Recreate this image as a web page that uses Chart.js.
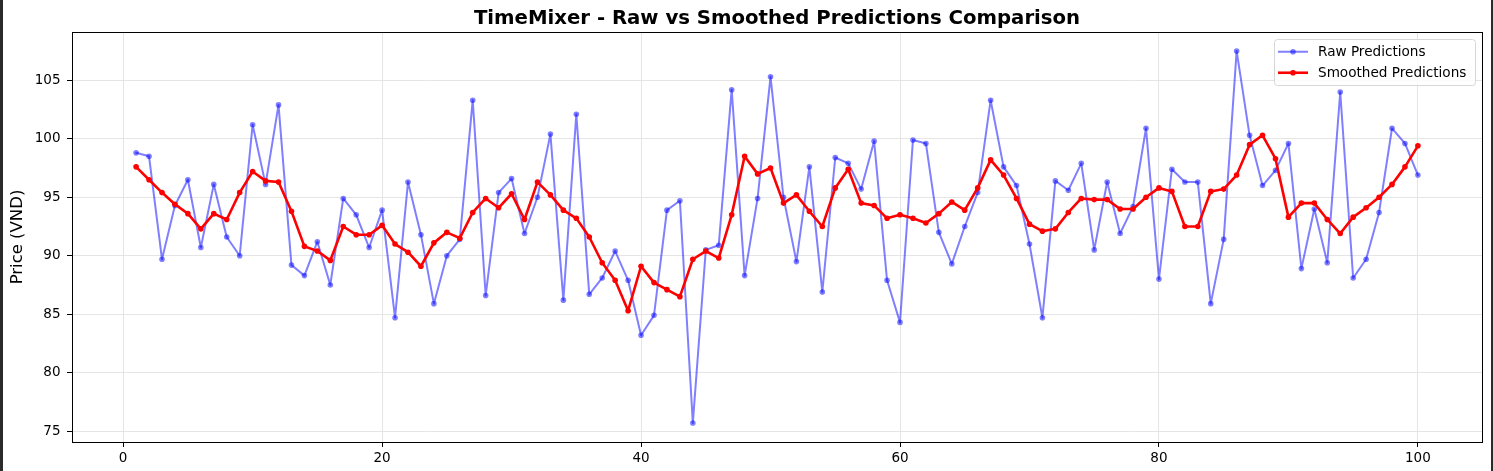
<!DOCTYPE html>
<html>
<head>
<meta charset="utf-8">
<script src="https://cdn.jsdelivr.net/npm/chart.js@4.4.1/dist/chart.umd.min.js"></script>
<style>
  html, body { margin: 0; padding: 0; background: #2b2b2b; overflow: hidden; }
  #wrap { position: absolute; left: 3px; top: 0; width: 1488px; height: 471px; background: #fff; }
</style>
</head>
<body>
<div id="wrap"><canvas id="chart"></canvas></div>
<script>
const titleText = 'TimeMixer - Raw vs Smoothed Predictions Comparison';
const yLabel = 'Price (VND)';
const seriesNames = ['Raw Predictions', 'Smoothed Predictions'];
const xTicks = [0, 20, 40, 60, 80, 100];
const yTicks = [75, 80, 85, 90, 95, 100, 105];

const rawPredictions = [
  98.8, 98.5, 89.7, 94.3, 96.5, 90.7, 96.1, 91.6, 90.0, 101.2,
  96.1, 102.9, 89.2, 88.3, 91.2, 87.5, 94.9, 93.5, 90.7, 93.9,
  84.7, 96.3, 91.8, 85.9, 90.0, 91.4, 103.3, 86.6, 95.4, 96.6,
  91.9, 95.0, 100.4, 86.2, 102.1, 86.7, 88.1, 90.4, 87.9, 83.2,
  84.9, 93.9, 94.7, 75.7, 90.5, 90.9, 104.2, 88.3, 94.9, 105.3,
  95.0, 89.5, 97.6, 86.9, 98.4, 97.9, 95.7, 99.8, 87.9, 84.3,
  99.9, 99.6, 92.0, 89.3, 92.5, 95.4, 103.3, 97.6, 96.0, 91.0,
  84.7, 96.4, 95.6, 97.9, 90.5, 96.3, 91.9, 94.2, 100.9, 88.0,
  97.4, 96.3, 96.3, 85.9, 91.4, 107.5, 100.3, 96.0, 97.3, 99.6,
  88.9, 94.0, 89.4, 104.0, 88.1, 89.7, 93.7, 100.9, 99.6, 96.9
];

const smoothedPredictions = [
  97.6, 96.5, 95.4, 94.4, 93.6, 92.3, 93.6, 93.1, 95.4, 97.2,
  96.4, 96.3, 93.8, 90.8, 90.4, 89.6, 92.5, 91.8, 91.8, 92.6,
  91.0, 90.3, 89.1, 91.1, 92.0, 91.5, 93.7, 94.9, 94.1, 95.3,
  93.1, 96.3, 95.2, 93.9, 93.2, 91.6, 89.4, 87.9, 85.3, 89.1,
  87.7, 87.1, 86.5, 89.7, 90.4, 89.8, 93.5, 98.5, 97.0, 97.5,
  94.5, 95.2, 93.8, 92.5, 95.8, 97.4, 94.5, 94.3, 93.2, 93.5,
  93.2, 92.8, 93.6, 94.6, 93.9, 95.8, 98.2, 96.9, 94.9, 92.7,
  92.1, 92.3, 93.7, 94.9, 94.8, 94.8, 94.0, 94.0, 95.0, 95.8,
  95.5, 92.5, 92.5, 95.5, 95.7, 96.9, 99.5, 100.3, 98.3, 93.3,
  94.5, 94.5, 93.1, 91.9, 93.3, 94.1, 95.0, 96.1, 97.6, 99.4
];

const FONT = "'DejaVu Sans', sans-serif";
const toPoints = arr => arr.map((v, i) => ({ x: i + 1, y: v }));

// matplotlib-like frame around the axes
const framePlugin = {
  id: 'frame',
  afterDatasetsDraw(chart) {
    const { ctx, chartArea: a } = chart;
    ctx.save();
    ctx.strokeStyle = '#000';
    ctx.lineWidth = 1;
    ctx.strokeRect(Math.round(a.left) + 0.5, Math.round(a.top) + 0.5, Math.round(a.right - a.left), Math.round(a.bottom - a.top));
    ctx.restore();
  }
};

// legend box drawn inside the plot, upper right
const boxLegend = {
  id: 'boxLegend',
  afterDraw(chart) {
    const { ctx, chartArea: a } = chart;
    const w = 201, h = 46, r = 3;
    const x0 = a.right - 7 - w, y0 = a.top + 7;
    ctx.save();
    ctx.beginPath();
    ctx.roundRect(x0 + 0.5, y0 + 0.5, w, h, r);
    ctx.fillStyle = 'rgba(255,255,255,0.8)';
    ctx.fill();
    ctx.strokeStyle = '#d6d6d6';
    ctx.lineWidth = 1;
    ctx.stroke();
    chart.data.datasets.forEach((ds, i) => {
      const cy = y0 + 12.7 + i * 21;
      ctx.beginPath();
      ctx.moveTo(x0 + 4, cy);
      ctx.lineTo(x0 + 34, cy);
      ctx.strokeStyle = ds.borderColor;
      ctx.lineWidth = ds.borderWidth;
      ctx.stroke();
      ctx.beginPath();
      ctx.arc(x0 + 19, cy, ds.pointRadius, 0, Math.PI * 2);
      ctx.fillStyle = ds.pointBackgroundColor;
      ctx.fill();
      ctx.fillStyle = '#000';
      ctx.font = '13.6px ' + FONT;
      ctx.textBaseline = 'middle';
      ctx.fillText(ds.label, x0 + 44, cy + 0.5);
    });
    ctx.restore();
  }
};

new Chart(document.getElementById('chart'), {
  type: 'line',
  data: {
    datasets: [
      {
        label: seriesNames[0],
        data: toPoints(rawPredictions),
        borderColor: 'rgba(0,0,255,0.5)',
        backgroundColor: 'rgba(0,0,255,0.5)',
        pointBackgroundColor: 'rgba(0,0,255,0.5)',
        borderWidth: 2,
        borderJoinStyle: 'round',
        borderCapStyle: 'round',
        pointRadius: 2.8,
        pointBorderWidth: 0,
        tension: 0,
        order: 2
      },
      {
        label: seriesNames[1],
        data: toPoints(smoothedPredictions),
        borderColor: '#ff0000',
        backgroundColor: '#ff0000',
        pointBackgroundColor: '#ff0000',
        borderWidth: 2.6,
        borderJoinStyle: 'round',
        borderCapStyle: 'round',
        pointRadius: 2.8,
        pointBorderWidth: 0,
        tension: 0,
        order: 1
      }
    ]
  },
  options: {
    responsive: true,
    maintainAspectRatio: false,
    animation: false,
    events: [],
    layout: { padding: { left: 0, right: 9, top: 0, bottom: 0 } },
    plugins: {
      legend: { display: false },
      tooltip: { enabled: false },
      title: {
        display: true,
        fullSize: false,
        text: titleText,
        color: '#000',
        font: { family: FONT, size: 19.7, weight: 'bold', lineHeight: 1.2 },
        padding: { top: 7, bottom: 1.4 }
      }
    },
    scales: {
      x: {
        type: 'linear',
        min: -3.95,
        max: 104.95,
        afterFit(s) { s.height = 29; },
        afterBuildTicks(s) { s.ticks = xTicks.map(v => ({ value: v })); },
        ticks: { color: '#000', font: { family: FONT, size: 13.5 }, padding: 3, maxRotation: 0, includeBounds: false },
        grid: { color: '#e5e5e5', lineWidth: 1, tickLength: 5, tickColor: '#000', tickWidth: 1 },
        border: { display: false }
      },
      y: {
        min: 74.07,
        max: 109.13,
        afterFit(s) { s.width = 69; },
        afterBuildTicks(s) { s.ticks = yTicks.map(v => ({ value: v })); },
        ticks: { color: '#000', font: { family: FONT, size: 13.5 }, padding: 6.5, includeBounds: false },
        grid: { color: '#e5e5e5', lineWidth: 1, tickLength: 5, tickColor: '#000', tickWidth: 1 },
        border: { display: false },
        title: {
          display: true,
          text: yLabel,
          color: '#000',
          font: { family: FONT, size: 16.5 },
          padding: { top: 5, bottom: 0 }
        }
      }
    }
  },
  plugins: [framePlugin, boxLegend]
});
</script>
</body>
</html>
